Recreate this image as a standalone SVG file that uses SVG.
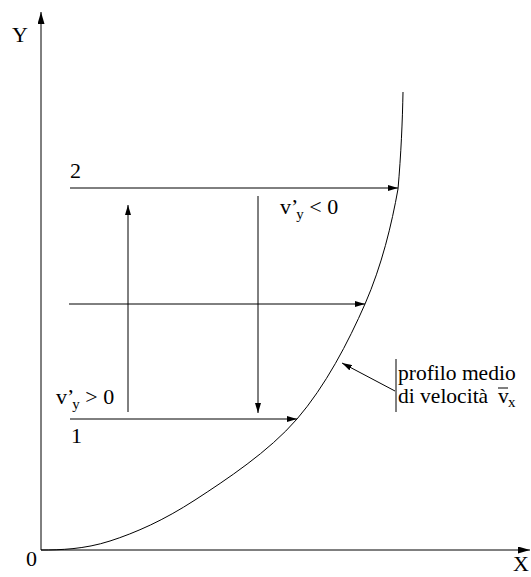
<svg xmlns="http://www.w3.org/2000/svg" width="531" height="577" viewBox="0 0 531 577">
<style>
.ln{stroke:#000;stroke-width:1;fill:none}
text{font-family:'Liberation Serif','Times New Roman','DejaVu Serif',serif;font-size:22px;fill:#000}
.s{font-size:15px}
.m{font-size:21.5px}
</style>
<defs>
<marker id="ah" markerUnits="userSpaceOnUse" markerWidth="10" markerHeight="6" refX="10" refY="3" orient="auto">
<path d="M0,0 L10,3 L0,6 z" fill="#000"/>
</marker>
<marker id="axh" markerUnits="userSpaceOnUse" markerWidth="12" markerHeight="7" refX="12" refY="3.5" orient="auto">
<path d="M0,0 L12,3.5 L0,7 z" fill="#000"/>
</marker>
</defs>
<g id="axes" font-family="Liberation Serif, serif">
<line class="ln" x1="41" y1="550" x2="41" y2="12" marker-end="url(#axh)"/>
<line class="ln" x1="41" y1="550" x2="530" y2="550" marker-end="url(#axh)"/>
<text x="12" y="42">Y</text>
<text x="26" y="566">0</text>
<text x="513" y="571" font-size="20">X</text>
</g>
<g id="profile">
<path class="ln" d="M41,550 C60,550 84.3,549.3 110,541 C135.7,532.7 163.8,520.3 195,500 C226.2,479.7 268.7,451.7 297,419 C325.3,386.3 348.2,342.3 365,304 C381.8,265.7 391.7,224.3 398,189 C401,155 402.5,120 403,92"/>
</g>
<g id="connectors">
<line class="ln" x1="70" y1="188" x2="398" y2="188" marker-end="url(#ah)"/>
<line class="ln" x1="69" y1="304" x2="365" y2="304" marker-end="url(#ah)"/>
<line class="ln" x1="70" y1="419" x2="297" y2="419" marker-end="url(#ah)"/>
<line class="ln" x1="128" y1="412" x2="128" y2="205" marker-end="url(#ah)"/>
<line class="ln" x1="258" y1="196" x2="258" y2="413" marker-end="url(#ah)"/>
<line class="ln" x1="395" y1="391" x2="342" y2="363" marker-end="url(#ah)"/>
<line class="ln" x1="396" y1="359" x2="396" y2="412"/>
</g>
<g id="labels" font-family="Liberation Serif, serif">
<text x="70" y="178">2</text>
<text x="71" y="443">1</text>
<text x="280" y="214">v’<tspan class="s" dx="-2" dy="5">y</tspan><tspan dy="-5"> &lt; 0</tspan></text>
<text x="56" y="404">v’<tspan class="s" dx="-2" dy="5">y</tspan><tspan dy="-5"> &gt; 0</tspan></text>
<text class="m" x="398" y="380">profilo medio</text>
<text class="m" x="398" y="403">di velocità</text>
<text class="m" x="498" y="403">v</text>
<text class="s" x="508" y="407">x</text>
<line class="ln" x1="498" y1="388" x2="508" y2="388"/>
</g>
</svg>
